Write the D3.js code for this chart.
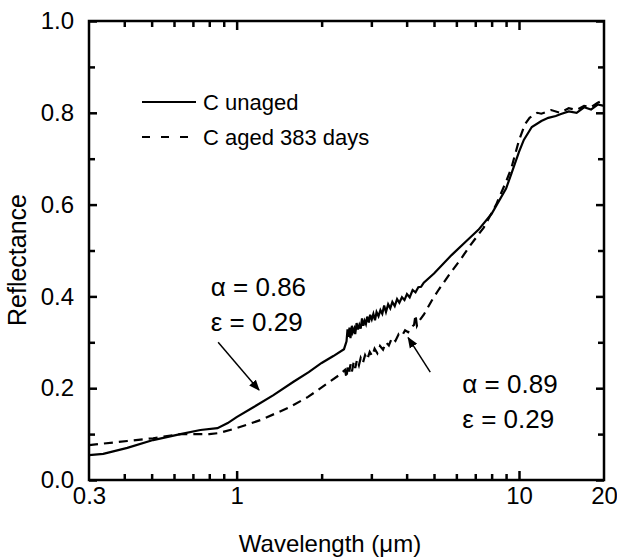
<!DOCTYPE html>
<html>
<head>
<meta charset="utf-8">
<script src="https://cdn.jsdelivr.net/npm/d3@7"></script>
<style>
  body { margin: 0; background: #fff; }
  svg { font-family: Arial, "Liberation Sans", sans-serif; }
  .tick text { font-size: 24px; fill: #000; }
  .label { font-size: 24px; }
  .note { font-size: 26px; }
  .legend { font-size: 22px; }
</style>
</head>
<body>
<div id="chart"></div>
<script>
// wavelength (um) and reflectance
const unagedWl = [0.3, 0.337, 0.41, 0.506, 0.632, 0.744, 0.855, 0.93, 1.0, 1.15, 1.35, 1.59, 1.8, 2.0, 2.2, 2.4,
  2.45, 2.47, 2.49, 2.51, 2.53, 2.56, 2.58, 2.61, 2.63, 2.66, 2.69, 2.72, 2.75, 2.78, 2.81, 2.84, 2.87, 2.9, 2.94, 2.97,
  3.01, 3.05, 3.09, 3.13, 3.18, 3.23, 3.28, 3.33, 3.38, 3.44, 3.5, 3.56, 3.63, 3.7, 3.77, 3.85, 3.93, 4.01, 4.1, 4.2,
  4.3, 4.4, 4.5, 4.6,
  5.0, 5.77, 6.5, 7.18, 8.0, 9.0, 9.42, 10.0, 10.4, 11.1, 12.0, 12.7, 13.5, 14.0, 15.0, 16.0, 17.0, 18.0, 19.0, 20.0];
const unagedR = [0.054, 0.057, 0.07, 0.087, 0.10, 0.109, 0.113, 0.124, 0.137, 0.159, 0.185, 0.214, 0.235, 0.255, 0.27, 0.285,
  0.302, 0.328, 0.312, 0.332, 0.309, 0.336, 0.322, 0.33, 0.318, 0.342, 0.328, 0.338, 0.33, 0.352, 0.336, 0.347, 0.34, 0.356, 0.343, 0.36,
  0.35, 0.362, 0.348, 0.366, 0.357, 0.37, 0.362, 0.38, 0.366, 0.383, 0.374, 0.388, 0.379, 0.394, 0.386, 0.398, 0.392, 0.405, 0.398, 0.414,
  0.409, 0.42, 0.421, 0.43,
  0.45, 0.49, 0.52, 0.545, 0.58, 0.635, 0.669, 0.715, 0.741, 0.769, 0.782, 0.789, 0.793, 0.797, 0.803, 0.80, 0.812, 0.807, 0.818, 0.815];

const agedWl = [0.3, 0.41, 0.506, 0.632, 0.80, 0.86, 1.0, 1.22, 1.52, 1.79, 2.1, 2.3, 2.42,
  2.45, 2.47, 2.5, 2.53, 2.56, 2.6, 2.63, 2.67, 2.71, 2.75, 2.8, 2.85, 2.9, 2.96, 3.02, 3.08, 3.15, 3.22, 3.3, 3.38,
  3.46, 3.55, 3.65, 3.75, 3.85, 3.95, 4.05, 4.15, 4.25, 4.3, 4.35, 4.45, 4.6,
  4.9, 5.2, 5.7, 6.2, 6.7, 7.5, 8.3, 9.0, 9.4, 10.0, 10.5, 10.9, 11.6, 12.0, 13.0, 14.0, 15.0, 16.0, 17.0, 18.0, 19.0, 20.0];
const agedR = [0.076, 0.085, 0.091, 0.10, 0.10, 0.102, 0.113, 0.131, 0.157, 0.181, 0.211, 0.228, 0.24,
  0.222, 0.245, 0.232, 0.252, 0.236, 0.258, 0.244, 0.262, 0.25, 0.266, 0.255, 0.272, 0.262, 0.279, 0.27, 0.286, 0.276, 0.292, 0.284, 0.30,
  0.293, 0.31, 0.303, 0.318, 0.314, 0.326, 0.322, 0.333, 0.338, 0.36, 0.336, 0.348, 0.36,
  0.39, 0.415, 0.45, 0.48, 0.51, 0.55, 0.60, 0.65, 0.68, 0.74, 0.775, 0.789, 0.80, 0.798, 0.806, 0.80, 0.81, 0.806, 0.815, 0.812, 0.822, 0.828];

const xLabelTicks = [0.3, 1, 10, 20];
const xMajorTicks = [1, 10];
const xMinorTicks = [0.4, 0.5, 0.6, 0.7, 0.8, 0.9, 2, 3, 4, 5, 6, 7, 8, 9];
const yMajorTicks = [0, 0.2, 0.4, 0.6, 0.8, 1.0];
const yMinorTicks = [0.1, 0.3, 0.5, 0.7, 0.9];

const legendLabels = ["C unaged", "C aged 383 days"];
const notes = [
  { lines: ["\u03b1 = 0.86", "\u03b5 = 0.29"], at: [0.81, 0.40], from: [0.86, 0.30], to: [1.2, 0.196] },
  { lines: ["\u03b1 = 0.89", "\u03b5 = 0.29"], at: [6.3, 0.19], from: [4.85, 0.235], to: [4.05, 0.31] }
];

const width = 617, height = 560;
const margin = [21, 80, 89, 13]; // top, bottom, left, right

const svg = d3.select("#chart").append("svg")
  .attr("width", width).attr("height", height);

const x = d3.scaleLog([0.3, 20], [margin[2], width - margin[3]]);
const y = d3.scaleLinear([0, 1], [height - margin[1], margin[0]]);

const yTop = margin[0], yBottom = height - margin[1], xLeft = margin[2], xRight = width - margin[3];

// ticks (inward, mirrored on all sides)
function ticks(axisGen, pos, vals, size) {
  const g = svg.append("g").attr("transform", pos)
    .call(axisGen.tickValues(vals).tickSizeInner(size).tickSizeOuter(0).tickFormat(""));
  g.select(".domain").remove();
  g.selectAll(".tick line").attr("stroke", "#000").attr("stroke-width", 2.5);
}
ticks(d3.axisBottom(x), `translate(0,${yBottom})`, xMajorTicks, -9);
ticks(d3.axisBottom(x), `translate(0,${yBottom})`, xMinorTicks, -6);
ticks(d3.axisTop(x), `translate(0,${yTop})`, xMajorTicks, -9);
ticks(d3.axisTop(x), `translate(0,${yTop})`, xMinorTicks, -6);
ticks(d3.axisLeft(y), `translate(${xLeft},0)`, yMajorTicks, -8);
ticks(d3.axisLeft(y), `translate(${xLeft},0)`, yMinorTicks, -6);
ticks(d3.axisRight(y), `translate(${xRight},0)`, yMajorTicks, -8);
ticks(d3.axisRight(y), `translate(${xRight},0)`, yMinorTicks, -6);

// tick labels
const xl = svg.append("g").attr("transform", `translate(0,${yBottom})`)
  .call(d3.axisBottom(x).tickValues(xLabelTicks).tickSize(0).tickPadding(7).tickFormat(d => String(d)));
xl.select(".domain").remove();
const yl = svg.append("g").attr("transform", `translate(${xLeft},0)`)
  .call(d3.axisLeft(y).tickValues(yMajorTicks).tickSize(0).tickPadding(15).tickFormat(d3.format(".1f")));
yl.select(".domain").remove();
svg.selectAll(".tick text").attr("font-family", "Arial, 'Liberation Sans', sans-serif");

// frame
svg.append("rect")
  .attr("x", xLeft).attr("y", yTop)
  .attr("width", xRight - xLeft).attr("height", yBottom - yTop)
  .attr("fill", "none").attr("stroke", "#000").attr("stroke-width", 2.5);

// axis titles
svg.append("text").attr("class", "label")
  .attr("x", 330).attr("y", 552)
  .attr("text-anchor", "middle")
  .text("Wavelength (\u03bcm)");
svg.append("text").attr("class", "label")
  .attr("transform", `translate(26,260)rotate(-90)`)
  .attr("text-anchor", "middle")
  .style("font-size", "25px")
  .text("Reflectance");

// curves
const line = d3.line().x(d => x(d[0])).y(d => y(d[1]));
const unaged = unagedWl.map((w, i) => [w, unagedR[i]]);
const aged = agedWl.map((w, i) => [w, agedR[i]]);

svg.append("path").datum(unaged)
  .attr("d", line).attr("fill", "none")
  .attr("stroke", "#000").attr("stroke-width", 2.2);
svg.append("path").datum(aged)
  .attr("d", line).attr("fill", "none")
  .attr("stroke", "#000").attr("stroke-width", 2.2)
  .attr("stroke-dasharray", "9,6");

// legend
const legend = svg.append("g");
legendLabels.forEach((t, i) => {
  const ly = 102 + i * 35;
  legend.append("line")
    .attr("x1", 142).attr("x2", i ? 189 : 196).attr("y1", ly).attr("y2", ly)
    .attr("stroke", "#000").attr("stroke-width", 2.2)
    .attr("stroke-dasharray", i ? "8,11" : null);
  legend.append("text").attr("class", "legend")
    .attr("x", 203).attr("y", ly + 8).text(t);
});

// annotations with arrows
svg.append("defs").append("marker")
  .attr("id", "arrow").attr("viewBox", "0 0 10 10")
  .attr("refX", 9).attr("refY", 5)
  .attr("markerWidth", 11).attr("markerHeight", 11)
  .attr("markerUnits", "userSpaceOnUse")
  .attr("orient", "auto")
  .append("path").attr("d", "M0,1 L10,5 L0,9 Z").attr("fill", "#000");

notes.forEach(n => {
  const t = svg.append("text").attr("class", "note");
  n.lines.forEach((s, i) => {
    t.append("tspan").attr("x", x(n.at[0])).attr("y", y(n.at[1]) + i * 35).text(s);
  });
  svg.append("line")
    .attr("x1", x(n.from[0])).attr("y1", y(n.from[1]))
    .attr("x2", x(n.to[0])).attr("y2", y(n.to[1]))
    .attr("stroke", "#000").attr("stroke-width", 1.5)
    .attr("marker-end", "url(#arrow)");
});
</script>
</body>
</html>
